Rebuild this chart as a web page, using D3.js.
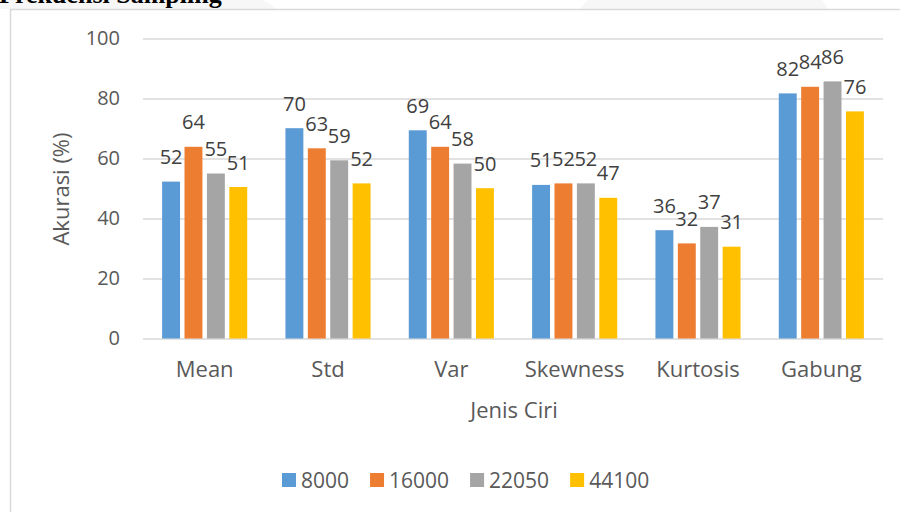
<!DOCTYPE html>
<html>
<head>
<meta charset="utf-8">
<script src="https://cdn.jsdelivr.net/npm/d3@7"></script>
<style>
  body { margin: 0; background: #fff; }
  svg { display: block; }
</style>
</head>
<body>
<div id="chart"></div>
<script>
// data
var categories = ["Mean", "Std", "Var", "Skewness", "Kurtosis", "Gabung"];
var series = ["8000", "16000", "22050", "44100"];
var colors = ["#5b9bd5", "#ed7d31", "#a5a5a5", "#ffc000"];
var values = [
    [52.3, 63.9, 55.0, 50.5],
    [70.1, 63.4, 59.4, 51.7],
    [69.4, 63.9, 58.3, 50.1],
    [51.2, 51.7, 51.7, 46.9],
    [36.1, 31.7, 37.2, 30.6],
    [81.7, 83.9, 85.7, 75.7]
];
var yTicks = [0, 20, 40, 60, 80, 100];

var width = 900,
    height = 512;

var font = "'Open Sans', sans-serif";

var svg = d3.select("#chart")
    .append("svg")
    .attr("width", width)
    .attr("height", height);

// faint watermark shapes behind the title strip
svg.append("path")
    .attr("d", "M0,0 L262,0 Q272,4 276,9 L0,9 Z")
    .attr("fill", "#f7f7f7");
svg.append("path")
    .attr("d", "M588,0 L822,0 Q826,4 828,9 L580,9 Q584,4 588,0 Z")
    .attr("fill", "#f7f7f7");

// title from the document, clipped at the top like the page it came from
svg.append("text")
    .attr("x", -1)
    .attr("y", 3)
    .style("font", "bold 26px 'Liberation Serif', 'Times New Roman', serif")
    .style("fill", "#000")
    .text("Frekuensi Sampling");

// chart frame
svg.append("path")
    .attr("d", "M10.5,600 L10.5,9.5 L900,9.5")
    .attr("fill", "none")
    .attr("stroke", "#d9d9d9")
    .attr("stroke-width", 1.5);

var x0 = d3.scaleBand()
    .domain(categories)
    .range([143, 883])
    .paddingInner(0.31)
    .paddingOuter(0.155);

var x1 = d3.scaleBand()
    .domain(series)
    .range([0, x0.bandwidth()])
    .paddingInner(0.2);

var y = d3.scaleLinear()
    .domain([0, 100])
    .range([338.5, 38.5]);

var color = d3.scaleOrdinal().domain(series).range(colors);

// gridlines + y labels
var yAxis = svg.append("g")
    .attr("transform", "translate(143,0)")
    .call(d3.axisLeft(y).tickValues(yTicks).tickSize(-(883 - 143)).tickPadding(23));
yAxis.select(".domain").remove();
yAxis.selectAll("line")
    .attr("stroke", "#d9d9d9")
    .attr("stroke-width", 1.5);
yAxis.selectAll("text")
    .style("font", "20px " + font)
    .style("fill", "#595959");

// x labels
var xAxis = svg.append("g")
    .attr("transform", "translate(0,338.5)")
    .call(d3.axisBottom(x0).tickSize(0).tickPadding(23));
xAxis.select(".domain").remove();
xAxis.selectAll("text")
    .style("font", "22px " + font)
    .style("fill", "#595959");

// bars
var groups = svg.selectAll("g.cat")
    .data(categories)
    .enter()
    .append("g")
    .attr("class", "cat")
    .attr("transform", d => "translate(" + x0(d) + ",0)");

groups.selectAll("rect")
    .data((d, i) => values[i].map((v, j) => ({ s: series[j], v: v })))
    .enter()
    .append("rect")
    .attr("x", d => x1(d.s))
    .attr("y", d => y(d.v))
    .attr("width", x1.bandwidth())
    .attr("height", d => y(0) - y(d.v))
    .attr("fill", d => color(d.s));

groups.selectAll("text")
    .data((d, i) => values[i].map((v, j) => ({ s: series[j], v: v })))
    .enter()
    .append("text")
    .attr("x", d => x1(d.s) + x1.bandwidth() / 2)
    .attr("y", d => y(d.v) - 17.5)
    .attr("text-anchor", "middle")
    .style("font", "20px " + font)
    .style("fill", "#404040")
    .text(d => Math.round(d.v));

// axis titles
svg.append("text")
    .attr("x", 514)
    .attr("y", 418)
    .attr("text-anchor", "middle")
    .style("font", "22px " + font)
    .style("fill", "#595959")
    .text("Jenis Ciri");

svg.append("text")
    .attr("transform", "translate(69,189) rotate(-90)")
    .attr("text-anchor", "middle")
    .style("font", "22px " + font)
    .style("fill", "#595959")
    .text("Akurasi (%)");

// legend
var legend = svg.append("g").attr("transform", "translate(282,473)");
var lx = 0;
series.forEach(function(s) {
    var item = legend.append("g").attr("transform", "translate(" + lx + ",0)");
    item.append("rect")
        .attr("width", 14)
        .attr("height", 14)
        .attr("fill", color(s));
    var t = item.append("text")
        .attr("x", 19)
        .attr("y", 15)
        .style("font", "21px " + font)
        .style("fill", "#595959")
        .text(s);
    lx += 19 + t.node().getComputedTextLength() + 21;
});
</script>
</body>
</html>
